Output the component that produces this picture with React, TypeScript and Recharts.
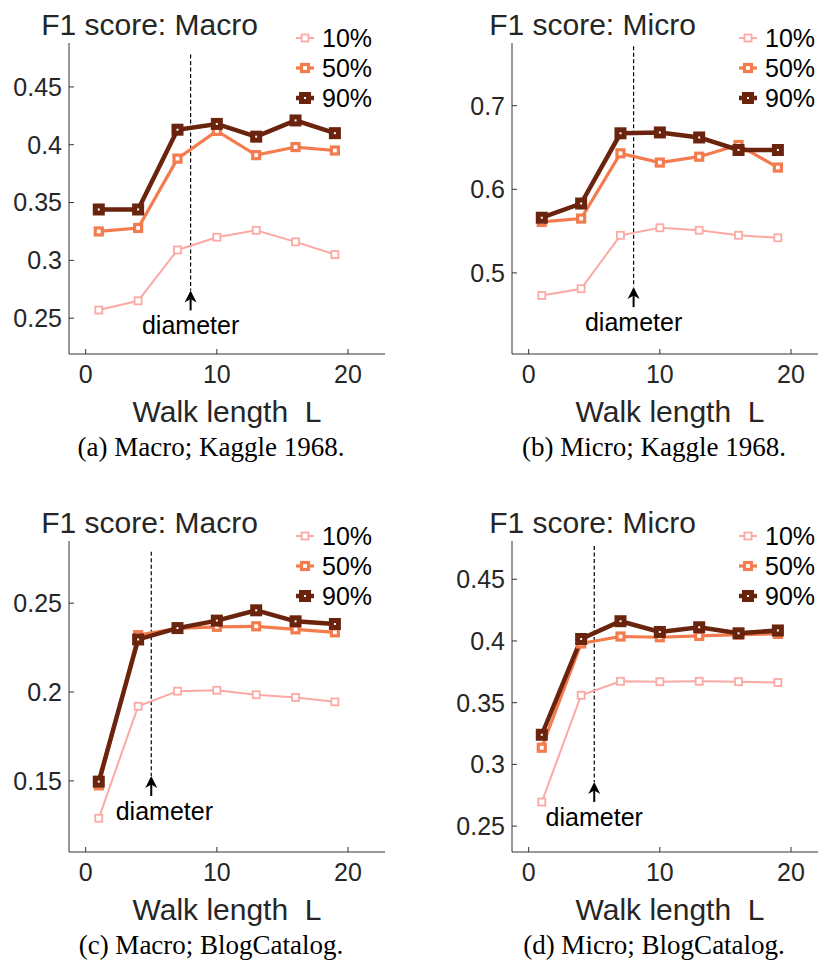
import { LineChart, Line, XAxis, YAxis, ReferenceLine, ReferenceDot } from 'recharts';

const walkLengths = [1, 4, 7, 10, 13, 16, 19];
const xTicks = [0, 10, 20];
const seriesNames = ['10%', '50%', '90%'];

const kaggleMacro10 = [0.257, 0.265, 0.309, 0.32, 0.326, 0.316, 0.305];
const kaggleMacro50 = [0.325, 0.328, 0.388, 0.412, 0.391, 0.398, 0.395];
const kaggleMacro90 = [0.344, 0.344, 0.413, 0.418, 0.407, 0.421, 0.41];

const kaggleMicro10 = [0.473, 0.481, 0.545, 0.554, 0.551, 0.545, 0.542];
const kaggleMicro50 = [0.561, 0.565, 0.643, 0.632, 0.639, 0.653, 0.626];
const kaggleMicro90 = [0.566, 0.583, 0.667, 0.668, 0.662, 0.647, 0.647];

const blogMacro10 = [0.129, 0.192, 0.2005, 0.201, 0.1985, 0.197, 0.1945];
const blogMacro50 = [0.1475, 0.232, 0.2358, 0.2367, 0.237, 0.2353, 0.2336];
const blogMacro90 = [0.1496, 0.2296, 0.236, 0.2402, 0.246, 0.2398, 0.2383];

const blogMicro10 = [0.2695, 0.356, 0.3673, 0.367, 0.3673, 0.367, 0.3663];
const blogMicro50 = [0.3135, 0.398, 0.4036, 0.403, 0.4041, 0.4052, 0.4057];
const blogMicro90 = [0.324, 0.4016, 0.416, 0.4073, 0.4111, 0.4062, 0.4085];

const macroTicksKaggle = [0.25, 0.3, 0.35, 0.4, 0.45];
const microTicksKaggle = [0.5, 0.6, 0.7];
const macroTicksBlog = [0.15, 0.2, 0.25];
const microTicksBlog = [0.25, 0.3, 0.35, 0.4, 0.45];

const colors = ['#fca9a4', '#f37b4e', '#6a230c'];
const lineWidths = [2, 3.2, 4.5];
const markerSide = [7, 7, 7];
const markerStroke = [1.8, 3.2, 5];

const sans = '"Liberation Sans", Arial, Helvetica, sans-serif';
const serif = '"Liberation Serif", "Times New Roman", serif';
const ink = '#262626';

const buildRows = (a: number[], b: number[], c: number[]) =>
  walkLengths.map((L, i) => ({ L, p10: a[i], p50: b[i], p90: c[i] }));

const panels = [
  {
    title: 'F1 score: Macro',
    caption: '(a) Macro; Kaggle 1968.',
    rows: buildRows(kaggleMacro10, kaggleMacro50, kaggleMacro90),
    yDomain: [0.219, 0.488],
    yTicks: macroTicksKaggle,
    diameter: 8,
    lineTop: 0.478,
    arrowTip: 0.274,
    labelX: 8,
    left: 0,
    top: 0,
  },
  {
    title: 'F1 score: Micro',
    caption: '(b) Micro; Kaggle 1968.',
    rows: buildRows(kaggleMicro10, kaggleMicro50, kaggleMicro90),
    yDomain: [0.403, 0.775],
    yTicks: microTicksKaggle,
    diameter: 8,
    lineTop: 0.771,
    arrowTip: 0.483,
    labelX: 8,
    left: 443,
    top: 0,
  },
  {
    title: 'F1 score: Macro',
    caption: '(c) Macro; BlogCatalog.',
    rows: buildRows(blogMacro10, blogMacro50, blogMacro90),
    yDomain: [0.11, 0.285],
    yTicks: macroTicksBlog,
    diameter: 5,
    lineTop: 0.279,
    arrowTip: 0.1528,
    labelX: 6,
    left: 0,
    top: 498,
  },
  {
    title: 'F1 score: Micro',
    caption: '(d) Micro; BlogCatalog.',
    rows: buildRows(blogMicro10, blogMicro50, blogMicro90),
    yDomain: [0.229, 0.481],
    yTicks: microTicksBlog,
    diameter: 5,
    lineTop: 0.477,
    arrowTip: 0.2858,
    labelX: 5,
    left: 443,
    top: 498,
  },
];

const keys = ['p10', 'p50', 'p90'];

function squareDot(idx: number) {
  return (props: any) => {
    const { cx, cy, index } = props;
    const s = markerSide[idx];
    return (
      <rect
        key={`dot-${idx}-${index}`}
        x={cx - s / 2}
        y={cy - s / 2}
        width={s}
        height={s}
        fill="#fff"
        stroke={colors[idx]}
        strokeWidth={markerStroke[idx]}
      />
    );
  };
}

const Arrow = (props: any) => {
  const { cx, cy } = props;
  return (
    <g>
      <line x1={cx} y1={cy + 6} x2={cx} y2={cy + 20} stroke="#000" strokeWidth={2} />
      <path d={`M${cx},${cy} L${cx - 6},${cy + 12} L${cx},${cy + 8.5} L${cx + 6},${cy + 12} Z`} fill="#000" />
    </g>
  );
};

const DiameterText = (props: any) => {
  const { cx, cy } = props;
  return (
    <text x={cx} y={cy + 44} textAnchor="middle" fontFamily={sans} fontSize={25} fill="#000">
      diameter
    </text>
  );
};

function Panel({ cfg }: { cfg: (typeof panels)[number] }) {
  const axisTick = { fill: ink, fontSize: 25, fontFamily: sans };
  return (
    <div style={{ position: 'absolute', left: cfg.left, top: cfg.top, width: 409, height: 470 }}>
      <LineChart
        width={409}
        height={470}
        data={cfg.rows}
        margin={{ top: 43, right: 24, left: 0, bottom: 36 }}
      >
        <XAxis
          dataKey="L"
          type="number"
          domain={[-1.27, 22.82]}
          ticks={xTicks}
          allowDataOverflow
          height={80}
          tickSize={-5}
          tickMargin={16}
          stroke="#333"
          tick={axisTick}
        />
        <YAxis
          type="number"
          domain={cfg.yDomain}
          ticks={cfg.yTicks}
          allowDataOverflow
          width={69}
          tickSize={-5}
          tickMargin={12}
          stroke="#333"
          tick={axisTick}
        />
        <ReferenceLine
          segment={[
            { x: cfg.diameter, y: cfg.lineTop },
            { x: cfg.diameter, y: cfg.arrowTip },
          ]}
          stroke="#000"
          strokeWidth={1.2}
          strokeDasharray="4 2.5"
        />
        <ReferenceDot x={cfg.diameter} y={cfg.arrowTip} r={0} shape={Arrow} />
        <ReferenceDot x={cfg.labelX} y={cfg.arrowTip} r={0} shape={DiameterText} />
        {keys.map((k, i) => (
          <Line
            key={k}
            type="linear"
            dataKey={k}
            stroke={colors[i]}
            strokeWidth={lineWidths[i]}
            dot={squareDot(i)}
            activeDot={false}
            isAnimationActive={false}
          />
        ))}
      </LineChart>
      <div
        style={{
          position: 'absolute',
          left: 0,
          width: 299,
          top: 10,
          textAlign: 'center',
          fontFamily: sans,
          fontSize: 30,
          lineHeight: '30px',
          color: ink,
          whiteSpace: 'nowrap',
        }}
      >
        {cfg.title}
      </div>
      <div style={{ position: 'absolute', left: 295, top: 23, fontFamily: sans, fontSize: 25, color: '#000' }}>
        {seriesNames.map((name, i) => (
          <div key={name} style={{ display: 'flex', alignItems: 'center', height: 30 }}>
            <svg width={20} height={14} style={{ marginRight: 7 }}>
              <line x1={1} y1={7} x2={19} y2={7} stroke={colors[i]} strokeWidth={lineWidths[i]} />
              <rect x={6.5} y={3.5} width={7} height={7} fill="#fff" stroke={colors[i]} strokeWidth={markerStroke[i]} />
            </svg>
            <span style={{ lineHeight: '30px' }}>{name}</span>
          </div>
        ))}
      </div>
      <div
        style={{
          position: 'absolute',
          left: 27,
          width: 400,
          top: 397,
          textAlign: 'center',
          fontFamily: sans,
          fontSize: 30,
          lineHeight: '30px',
          color: ink,
          whiteSpace: 'pre',
        }}
      >
        {'Walk length  L'}
      </div>
      <div
        style={{
          position: 'absolute',
          left: 11,
          width: 400,
          top: 434,
          textAlign: 'center',
          fontFamily: serif,
          fontSize: 27,
          lineHeight: '27px',
          color: '#000',
          whiteSpace: 'nowrap',
        }}
      >
        {cfg.caption}
      </div>
    </div>
  );
}

export default function App() {
  return (
    <div
      style={{
        position: 'absolute',
        left: 0,
        top: 0,
        width: 818,
        height: 967,
        overflow: 'hidden',
        background: '#fff',
      }}
    >
      {panels.map((p, i) => (
        <Panel key={i} cfg={p} />
      ))}
    </div>
  );
}
